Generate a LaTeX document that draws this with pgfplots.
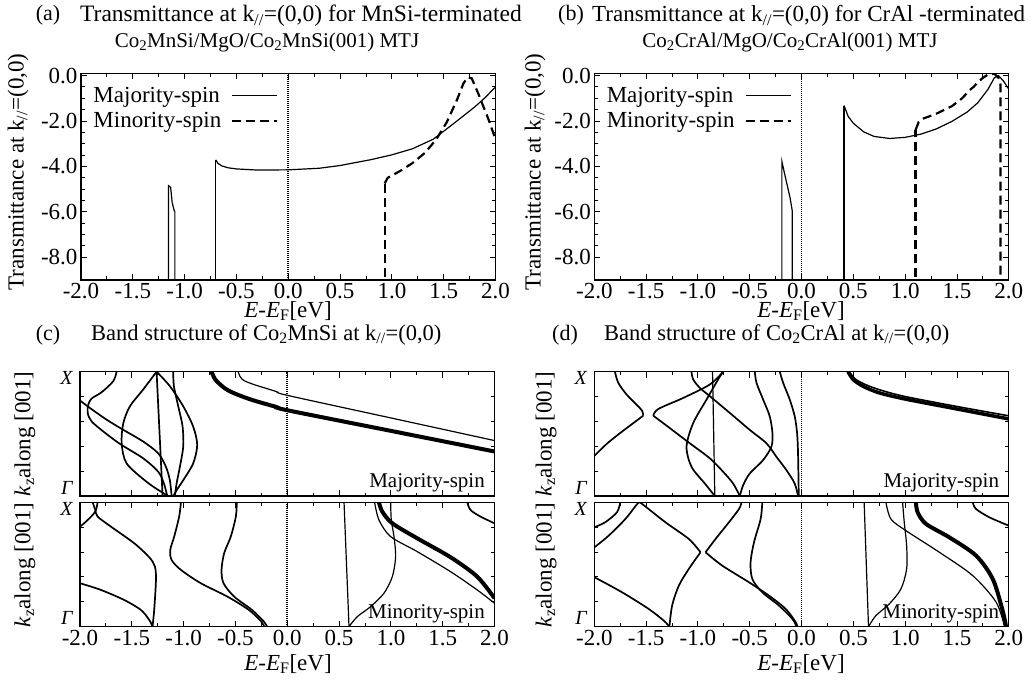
\documentclass[border=0pt]{standalone}
\usepackage{pgfplots}
\pgfplotsset{compat=1.18}
\usepackage{fontspec}
\setmainfont{Liberation Serif}
\newcommand{\fs}[1]{\fontsize{#1}{#1}\selectfont}
\pgfplotsset{
 myaxis/.style={
  scale only axis, anchor=north west, width=414.5pt,
  xmin=-2, xmax=2,
  xtick={-2,-1.5,-1,-0.5,0,0.5,1,1.5,2},
  minor x tick num=1,
  tick align=inside,
  axis line style={line width=1.1pt},
  tick style={black, line width=0.9pt},
  major tick length=6pt, minor tick length=3.5pt,
  tick label style={font=\fs{23}},
  /pgf/number format/fixed, /pgf/number format/fixed zerofill,
  /pgf/number format/precision=1, /pgf/number format/assume math mode=true,
 },
 trans/.style={myaxis, height=206.7pt, ymin=-9, ymax=0.1,
   ytick={-8,-6,-4,-2,0}, minor y tick num=3,
   legend plot pos=right, legend cell align=left,
   legend style={draw=none, fill=none, at={(0.02,0.955)}, anchor=north west,
     font=\fs{23}, row sep=5pt, column sep=8pt, inner sep=2pt},
   legend image code/.code={\draw[##1] (0pt,0pt) -- (45pt,0pt);},
 },
 band/.style={myaxis, height=124.3pt, ymin=0, ymax=1, ytick={0,1},
   yticklabels={{\raisebox{2pt}[0pt][0pt]{\itshape Γ}},{\raisebox{-13pt}[0pt][0pt]{\itshape X}}},
   minor ytick={0.2,0.4,0.6,0.8},
   yticklabel style={font=\fs{20}, xshift=-4pt}},
 nb/.style={line width=1.7pt, smooth, no markers},
 th/.style={line width=1.2pt, smooth, no markers},
 tk/.style={line width=4pt, smooth, no markers},
 ln/.style={line width=1.2pt, no markers},
 ef/.style={line width=1.8pt, dash pattern=on 1pt off 1pt, forget plot, no markers},
 mn/.style={line width=2.2pt, dash pattern=on 9pt off 5pt, no markers},
}
\begin{document}
\begin{tikzpicture}[x=1pt,y=1pt]
\path[use as bounding box] (0pt,0pt) rectangle (1032pt,-684pt);

% ---------- titles ----------
\node[font=\fs{22}] at (48pt,-15pt) {(a)};
\node[font=\fs{23.5}, anchor=west, inner sep=0pt] at (80pt,-16pt) {Transmittance at k\textsubscript{//}=(0,0) for MnSi-terminated};
\node[font=\fs{21}] at (267pt,-42pt) {Co\textsubscript{2}MnSi/MgO/Co\textsubscript{2}MnSi(001) MTJ};
\node[font=\fs{22}] at (571pt,-15pt) {(b)};
\node[font=\fs{23}, anchor=west, inner sep=0pt] at (592pt,-16pt) {Transmittance at k\textsubscript{//}=(0,0) for CrAl -terminated};
\node[font=\fs{21}] at (790pt,-42pt) {Co\textsubscript{2}CrAl/MgO/Co\textsubscript{2}CrAl(001) MTJ};
\node[font=\fs{22}] at (48pt,-335pt) {(c)};
\node[font=\fs{22.5}, anchor=west, inner sep=0pt] at (91pt,-335pt) {Band structure of Co\textsubscript{2}MnSi at k\textsubscript{//}=(0,0)};
\node[font=\fs{22}] at (565pt,-335pt) {(d)};
\node[font=\fs{22.5}, anchor=west, inner sep=0pt] at (604pt,-335pt) {Band structure of Co\textsubscript{2}CrAl at k\textsubscript{//}=(0,0)};
% x labels
\node[font=\fs{23}] at (288pt,-311pt) {\textit{E}-\textit{E}\textsubscript{F}[eV]};
\node[font=\fs{23}] at (801pt,-311pt) {\textit{E}-\textit{E}\textsubscript{F}[eV]};
\node[font=\fs{23}] at (288pt,-664pt) {\textit{E}-\textit{E}\textsubscript{F}[eV]};
\node[font=\fs{23}] at (801pt,-664pt) {\textit{E}-\textit{E}\textsubscript{F}[eV]};
% y labels
\node[font=\fs{23}, rotate=90] at (18pt,-172pt) {Transmittance at k\textsubscript{//}=(0,0)};
\node[font=\fs{23}, rotate=90] at (535pt,-172pt) {Transmittance at k\textsubscript{//}=(0,0)};
\node[font=\fs{23}, rotate=90] at (25pt,-434pt) {\textit{k}\textsubscript{z}along [001]};
\node[font=\fs{23}, rotate=90] at (25pt,-565pt) {\textit{k}\textsubscript{z}along [001]};
\node[font=\fs{23}, rotate=90] at (546pt,-434pt) {\textit{k}\textsubscript{z}along [001]};
\node[font=\fs{23}, rotate=90] at (546pt,-565pt) {\textit{k}\textsubscript{z}along [001]};

% ---------- (a) ----------
\begin{axis}[trans, at={(81pt,-73.3pt)}]
\addplot[ln] coordinates {(-0.699,-3.71) (-0.68,-3.86) (-0.64,-3.98) (-0.58,-4.06) (-0.5,-4.11) (-0.3,-4.16) (0,-4.15) (0.3,-4.08) (0.5,-3.96) (0.8,-3.70) (1.0,-3.49) (1.2,-3.22) (1.4,-2.80) (1.6,-2.10) (1.8,-1.38) (1.9,-0.97) (2.0,-0.50)};
\addlegendentry{Majority-spin}
\addplot[mn] coordinates {(0.93,-4.75) (0.96,-4.50) (1.08,-4.20) (1.2,-3.85) (1.32,-3.40) (1.43,-2.80) (1.53,-2.05) (1.63,-1.05) (1.69,-0.35) (1.73,-0.08) (1.77,-0.12) (1.83,-0.75) (1.93,-1.90) (2.0,-2.80)};
\addlegendentry{Minority-spin}
\addplot[ln, forget plot] coordinates {(-0.699,-9.5) (-0.699,-3.71)};
\addplot[mn, forget plot] coordinates {(0.93,-9.5) (0.93,-4.75)};
\addplot[ln, forget plot] coordinates {(-1.155,-9.5) (-1.155,-4.85) (-1.135,-4.92) (-1.12,-5.6) (-1.10,-5.95) (-1.094,-6.0) (-1.094,-9.5)};
\addplot[ef] coordinates {(0,-9) (0,0.1)};
\end{axis}

% ---------- (b) ----------
\begin{axis}[trans, at={(594.3pt,-73.3pt)}]
\addplot[ln] coordinates {(0.41,-1.32) (0.45,-1.80) (0.5,-2.10) (0.6,-2.48) (0.7,-2.68) (0.85,-2.77) (1.0,-2.72) (1.15,-2.58) (1.3,-2.35) (1.45,-2.02) (1.6,-1.60) (1.7,-1.20) (1.8,-0.60) (1.86,-0.10) (1.9,0.0) (1.95,-0.25) (2.0,-0.60)};
\addlegendentry{Majority-spin}
\addplot[mn] coordinates {(1.10,-2.40) (1.13,-2.05) (1.17,-1.90) (1.3,-1.68) (1.45,-1.35) (1.55,-1.00) (1.62,-0.65) (1.66,-0.50) (1.7,-0.30) (1.75,-0.10) (1.8,0.05) (1.86,0.08) (1.9,-0.10) (1.92,-0.40) (1.92,-9.5)};
\addlegendentry{Minority-spin}
\addplot[ln, forget plot] coordinates {(0.41,-9.5) (0.41,-1.32)};
\addplot[mn, forget plot] coordinates {(1.10,-9.5) (1.10,-2.40)};
\addplot[ln, forget plot] coordinates {(-0.19,-9.5) (-0.19,-3.78) (-0.15,-4.6) (-0.11,-5.4) (-0.09,-5.95) (-0.09,-9.5)};
\addplot[ef] coordinates {(0,-9) (0,0.1)};
\end{axis}

% ---------- (c) majority ----------
\begin{axis}[band, at={(80pt,-371.7pt)}, xticklabels={}]
\addplot[nb] coordinates {(-1.647,1) (-1.679,0.924) (-1.791,0.835) (-1.888,0.784) (-1.92,0.735) (-1.926,0.668) (-1.888,0.6) (-1.775,0.519) (-1.614,0.419) (-1.39,0.303) (-1.245,0.195) (-1.19,0.1) (-1.158,0)};
\addplot[nb] coordinates {(-2.05,0.80) (-2,0.768) (-1.904,0.708) (-1.743,0.614) (-1.582,0.532) (-1.39,0.438) (-1.245,0.343) (-1.171,0.235) (-1.133,0.127) (-1.116,0)};
\addplot[nb] coordinates {(-1.261,1) (-1.203,0)};
\addplot[nb] coordinates {(-1.261,1) (-1.39,0.857) (-1.518,0.722) (-1.582,0.586) (-1.598,0.424) (-1.55,0.262) (-1.357,0.114) (-1.213,0.032) (-1.149,0)};
\addplot[nb] coordinates {(-1.261,1) (-1.133,0.884) (-1.004,0.722) (-0.908,0.559) (-0.869,0.411) (-0.908,0.262) (-1.004,0.127) (-1.068,0.046) (-1.1,0)};
\addplot[nb] coordinates {(-1.1,1) (-1.094,0.884) (-1.052,0.722) (-1.01,0.559) (-1.004,0.397) (-1.036,0.235) (-1.068,0.1) (-1.084,0)};
\addplot[tk] coordinates {(-0.731,1) (-0.71,0.96) (-0.683,0.925) (-0.6,0.865) (-0.522,0.830) (-0.4,0.79) (-0.297,0.762) (-0.104,0.716) (0,0.69) (1,0.524) (2,0.358)};
\addplot[th] coordinates {(-0.474,1) (-0.455,0.96) (-0.42,0.93) (-0.35,0.905) (-0.297,0.89) (-0.104,0.84) (0,0.81) (1,0.628) (2,0.446)};
\addplot[ef] coordinates {(0,0) (0,1)};
\node[font=\fs{21}, anchor=south east] at (rel axis cs:0.985,0.0) {Majority-spin};
\end{axis}

% ---------- (c) minority ----------
\begin{axis}[band, at={(80pt,-502.3pt)}]
\addplot[nb] coordinates {(-2.05,0.78) (-2,0.804) (-1.942,0.845) (-1.878,0.898) (-1.846,0.938) (-1.83,1)};
\addplot[nb] coordinates {(-1.878,1) (-1.852,0.938) (-1.83,0.885) (-1.701,0.804) (-1.476,0.67) (-1.332,0.558) (-1.277,0.483) (-1.267,0.375) (-1.284,0.134) (-1.3,0)};
\addplot[nb] coordinates {(-2.05,0.36) (-2,0.349) (-1.798,0.295) (-1.573,0.214) (-1.412,0.134) (-1.332,0.054) (-1.3,0)};
\addplot[nb] coordinates {(-1.026,1) (-1.043,0.885) (-1.091,0.724) (-1.129,0.617) (-1.116,0.536) (-1.026,0.456) (-0.834,0.349) (-0.577,0.241) (-0.37,0.134) (-0.25,0.04) (-0.223,0)};
\addplot[nb] coordinates {(-0.487,1) (-0.496,0.885) (-0.545,0.724) (-0.609,0.59) (-0.634,0.456) (-0.615,0.349) (-0.512,0.241) (-0.34,0.134) (-0.225,0.04) (-0.195,0)};
\addplot[th] coordinates {(0.548,1) (0.596,0)};
\addplot[th] coordinates {(0.596,0) (0.676,0.08) (0.805,0.161) (0.933,0.268) (1.014,0.402) (1.046,0.563) (1.03,0.724) (1.004,0.858) (0.998,1)};
\addplot[tk] coordinates {(0.885,1) (0.917,0.925) (1.014,0.831) (1.255,0.71) (1.576,0.558) (1.833,0.402) (2.0,0.228)};
\addplot[th] coordinates {(0.843,1) (0.885,0.858) (0.998,0.724) (1.255,0.603) (1.576,0.442) (1.833,0.295) (2.0,0.188)};
\addplot[nb] coordinates {(1.737,1) (1.769,0.938) (1.865,0.885) (2.0,0.831)};
\addplot[ef] coordinates {(0,0) (0,1)};
\node[font=\fs{21}, anchor=south east] at (rel axis cs:0.985,0.0) {Minority-spin};
\end{axis}

% ---------- (d) majority ----------
\begin{axis}[band, at={(594.3pt,-371.7pt)}, xticklabels={}]
\addplot[nb] coordinates {(-1.801,1) (-1.769,0.911) (-1.688,0.816) (-1.592,0.735) (-1.538,0.685) (-1.528,0.646)};
\addplot[nb] coordinates {(-1.528,0.646) (-1.624,0.586) (-1.753,0.505) (-1.881,0.419) (-2.0,0.322) (-2.05,0.28)};
\addplot[nb] coordinates {(-0.757,1) (-0.885,0.897) (-1.142,0.789) (-1.383,0.7) (-1.431,0.646)};
\addplot[nb] coordinates {(-1.431,0.646) (-1.271,0.546) (-1.078,0.424) (-0.885,0.303) (-0.757,0.195) (-0.66,0.1) (-0.596,0)};
\addplot[th] coordinates {(-0.859,1) (-0.837,0)};
\addplot[nb] coordinates {(-1.062,1) (-1.046,0.938) (-0.982,0.87) (-0.885,0.803) (-0.692,0.668) (-0.5,0.532) (-0.339,0.424) (-0.243,0.316) (-0.146,0.208) (-0.066,0.1) (-0.034,0)};
\addplot[nb] coordinates {(-0.451,1) (-0.435,0.911) (-0.371,0.776) (-0.307,0.641) (-0.281,0.505) (-0.291,0.397) (-0.371,0.289) (-0.5,0.181) (-0.564,0.086) (-0.596,0)};
\addplot[nb] coordinates {(-0.21,1) (-0.178,0.911) (-0.114,0.776) (-0.066,0.641) (-0.043,0.505) (-0.034,0.343) (-0.027,0)};
\addplot[nb] coordinates {(-0.757,1) (-0.805,0.938) (-0.917,0.776) (-1.046,0.586) (-1.11,0.397) (-1.062,0.235) (-0.933,0.1) (-0.837,0)};
\addplot[tk, line width=3.5pt] coordinates {(0.448,1) (0.5,0.935) (0.6,0.88) (0.75,0.83) (1.0,0.78) (1.5,0.70) (2.0,0.62)};
\addplot[th, line width=1.6pt] coordinates {(0.46,1) (0.52,0.94) (0.62,0.895) (0.77,0.85) (1.0,0.80) (1.5,0.72) (2.0,0.645)};
\addplot[ef] coordinates {(0,0) (0,1)};
\node[font=\fs{21}, anchor=south east] at (rel axis cs:0.985,0.0) {Majority-spin};
\end{axis}

% ---------- (d) minority ----------
\begin{axis}[band, at={(594.3pt,-502.3pt)}]
\addplot[nb] coordinates {(-1.749,1) (-1.781,0.92) (-1.894,0.84) (-2,0.799) (-2.05,0.78)};
\addplot[nb] coordinates {(-2.05,0.62) (-2,0.638) (-1.861,0.732) (-1.7,0.866) (-1.604,0.968) (-1.571,1)};
\addplot[nb] coordinates {(-1.571,1) (-1.539,0.987) (-1.313,0.839) (-1.088,0.705) (-0.975,0.598)};
\addplot[nb] coordinates {(-0.975,0.598) (-1.088,0.464) (-1.184,0.33) (-1.249,0.169) (-1.275,0)};
\addplot[nb] coordinates {(-2.05,0.41) (-2,0.397) (-1.732,0.276) (-1.475,0.142) (-1.33,0.048) (-1.275,0)};
\addplot[nb] coordinates {(-0.579,1) (-0.604,0.946) (-0.701,0.839) (-0.83,0.705) (-0.927,0.598)};
\addplot[nb] coordinates {(-0.927,0.598) (-0.766,0.491) (-0.508,0.357) (-0.314,0.249) (-0.153,0.142) (-0.056,0.035) (-0.04,0)};
\addplot[nb] coordinates {(-0.379,1) (-0.395,0.866) (-0.459,0.678) (-0.492,0.517) (-0.475,0.383) (-0.379,0.276) (-0.218,0.169) (-0.089,0.062) (-0.05,0)};
\addplot[th] coordinates {(0.604,1) (0.646,0)};
\addplot[th] coordinates {(0.646,0) (0.717,0.088) (0.846,0.182) (0.959,0.303) (1.014,0.464) (1.014,0.651) (0.991,0.839) (0.975,1)};
\addplot[th] coordinates {(0.814,1) (0.862,0.866) (1.007,0.772) (1.33,0.598) (1.652,0.41) (1.878,0.196) (1.958,0)};
\addplot[tk] coordinates {(1.104,1) (1.12,0.92) (1.201,0.826) (1.426,0.718) (1.684,0.571) (1.845,0.383) (1.936,0.142) (1.974,0)};
\addplot[nb] coordinates {(1.652,1) (1.684,0.946) (1.813,0.879) (2.0,0.812)};
\addplot[ef] coordinates {(0,0) (0,1)};
\node[font=\fs{21}, anchor=south east] at (rel axis cs:0.985,0.0) {Minority-spin};
\end{axis}
\end{tikzpicture}
\end{document}
